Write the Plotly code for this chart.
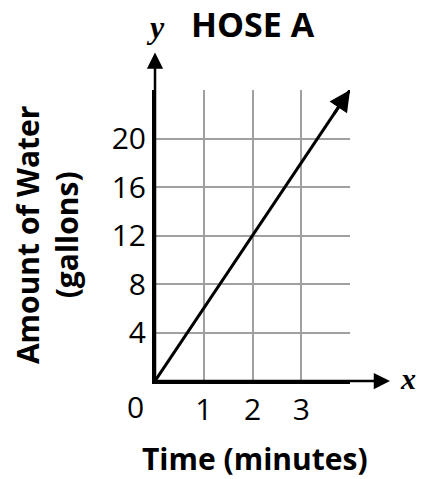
import plotly.graph_objects as go

# Data
time_min = [0, 4]
water_gal = [0, 24]
x_tickvals = [1, 2, 3, 4]
x_ticktext = ["1", "2", "3", ""]
y_tickvals = [4, 8, 12, 16, 20, 24]
y_ticktext = ["4", "8", "12", "16", "20", ""]

FONT = "Open Sans"
fig = go.Figure()
fig.add_trace(go.Scatter(x=time_min, y=water_gal, mode="lines",
                         line=dict(color="black", width=3), cliponaxis=False,
                         hoverinfo="skip", showlegend=False))

# arrowhead on the line
fig.add_annotation(x=time_min[-1], y=water_gal[-1], xref="x", yref="y",
                   ax=time_min[-1] - 0.35, ay=water_gal[-1] - 0.35 * 6, axref="x", ayref="y",
                   showarrow=True, arrowhead=2, arrowsize=1.4, arrowwidth=3, arrowcolor="black", text="")
# axis arrows
fig.add_annotation(x=4.82, y=0, xref="x", yref="y", ax=0, ay=0, axref="x", ayref="y",
                   showarrow=True, arrowhead=2, arrowsize=1.3, arrowwidth=2.5, arrowcolor="black", text="")
fig.add_annotation(x=0, y=27.1, xref="x", yref="y", ax=0, ay=0, axref="x", ayref="y",
                   showarrow=True, arrowhead=2, arrowsize=1.3, arrowwidth=2.5, arrowcolor="black", text="")
# axis letters
fig.add_annotation(x=1.245, y=0.0, xref="paper", yref="paper", text="<b><i>x</i></b>", showarrow=False,
                   xanchor="left", yanchor="middle", yshift=3,
                   font=dict(family="Liberation Serif", size=30, color="black"))
fig.add_annotation(x=0.0, y=1.215, xref="paper", yref="paper", text="<b><i>y</i></b>", showarrow=False,
                   xanchor="center", yanchor="middle",
                   font=dict(family="Liberation Serif", size=32, color="black"))
# origin label
fig.add_annotation(x=0, y=0, xref="x", yref="y", text="0", showarrow=False,
                   xanchor="center", yanchor="middle", xshift=-20, yshift=-25,
                   font=dict(family=FONT, size=30, color="black"))
# title
fig.add_annotation(x=0.503, y=1.226, xref="paper", yref="paper", text="<b>HOSE A</b>", showarrow=False,
                   xanchor="center", yanchor="middle", borderpad=0,
                   font=dict(family=FONT, size=34, color="black"))
# y axis title
fig.add_annotation(x=-0.553, y=0.502, xref="paper", yref="paper",
                   text="<b>Amount of Water<br>(gallons)</b>", showarrow=False, textangle=-90,
                   xanchor="center", yanchor="middle",
                   font=dict(family=FONT, size=30, color="black"))
# x axis title
fig.add_annotation(x=0.513, y=-0.265, xref="paper", yref="paper",
                   text="<b>Time (minutes)</b>", showarrow=False,
                   xanchor="center", yanchor="middle",
                   font=dict(family=FONT, size=30, color="black"))

fig.update_layout(
    width=421, height=479,
    margin=dict(l=155, r=71, t=90, b=98, autoexpand=False),
    plot_bgcolor="white", paper_bgcolor="white",
    font=dict(family=FONT, size=30, color="black"),
    xaxis=dict(range=[0, 4], tickvals=x_tickvals, ticktext=x_ticktext,
               showgrid=True, gridcolor="#a0a0a0", gridwidth=1.5,
               showline=True, linecolor="black", linewidth=3, zeroline=False,
               ticks="", ticklabelstandoff=0, automargin=False),
    yaxis=dict(range=[0, 24], tickvals=y_tickvals, ticktext=y_ticktext,
               showgrid=True, gridcolor="#a0a0a0", gridwidth=1.5,
               showline=True, linecolor="black", linewidth=3, zeroline=False,
               ticks="", ticklabelstandoff=0, automargin=False),
)
fig.write_html("out.html", post_script="document.body.style.margin='0';",
               config={"displayModeBar": False})
